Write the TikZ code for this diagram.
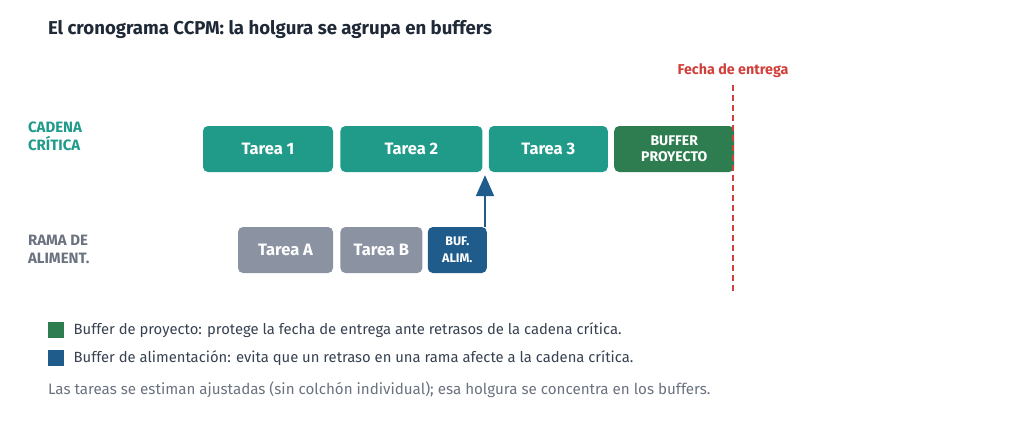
\documentclass[tikz,border=0pt]{standalone}
\usepackage{fontspec}
\setmainfont{Fira Sans}
\usetikzlibrary{positioning,arrows.meta}

\definecolor{critico}{RGB}{32,155,138}
\definecolor{bufproy}{RGB}{46,125,80}
\definecolor{bufalim}{RGB}{31,92,139}
\definecolor{rama}{RGB}{139,147,162}
\definecolor{ramatxt}{RGB}{107,114,128}
\definecolor{tinta}{RGB}{31,41,55}
\definecolor{leyenda}{RGB}{55,65,81}
\definecolor{entrega}{RGB}{208,64,58}

\begin{document}
\begin{tikzpicture}[x=1pt, y=-1pt, node distance=6pt,
    tarea/.style={rectangle, rounded corners=5pt, text=white, font=\fontsize{16.5}{18}\selectfont\bfseries,
      minimum height=46pt, inner sep=0pt, align=center},
    critica/.style={tarea, fill=critico},
    alim/.style={tarea, fill=rama},
    buffer/.style={tarea, font=\fontsize{14}{16}\selectfont\bfseries},
    fila/.style={anchor=west, align=left, font=\fontsize{15}{18}\selectfont\bfseries},
    cuadro/.style={minimum size=16pt, inner sep=0pt},
    nota/.style={anchor=west, font=\fontsize{14.8}{17}\selectfont, text=leyenda}]

    \useasboundingbox (0,0) rectangle (1024,429);

    % titulo
    \node[anchor=west, text=tinta, font=\fontsize{18.6}{22}\selectfont\bfseries] (titulo) at (44.5,30)
      {El cronograma CCPM: la holgura se agrupa en buffers};

    % filas
    \node[fila, text=critico] (lcad) at (24.5,136) {CADENA\\CRÍTICA};
    \node[fila, text=ramatxt] (lrama) at (24.5,249) {RAMA DE\\ALIMENT.};

    % cadena critica
    \node[critica, minimum width=130pt] (t1) at (268,149) {Tarea 1};
    \node[critica, minimum width=142pt, right=7pt of t1] (t2) {Tarea 2};
    \node[critica, minimum width=119pt, right=of t2] (t3) {Tarea 3};
    \node[buffer, fill=bufproy, minimum width=120pt, right=of t3] (bproy) {BUFFER\\PROYECTO};

    % rama de alimentacion
    \node[alim, minimum width=95pt] (ta) at (285.5,250) {Tarea A};
    \node[alim, minimum width=82pt, right=7pt of ta] (tb) {Tarea B};
    \node[buffer, fill=bufalim, minimum width=59pt, right=5pt of tb,
      font=\fontsize{12.5}{17}\selectfont\bfseries] (balim) {BUF.\\ALIM.};

    \draw[-{Triangle[width=18pt,length=21pt]}, line width=2pt, bufalim, shorten >=3pt]
      ([xshift=-2pt]balim.north east) -- ([xshift=-2pt]balim.north east |- t2.south);

    % fecha de entrega
    \node[text=entrega, font=\fontsize{14.3}{16}\selectfont\bfseries] (fecha) at (733,71) {Fecha de entrega};
    \coordinate (fin) at (733,293);
    \draw[entrega, line width=2pt, dash pattern=on 6pt off 4pt] (fecha.south) ++(0,3) -- (fin);

    % leyenda
    \node[cuadro, fill=bufproy] (cproy) at (56,330) {};
    \node[nota, right=6pt of cproy] (nproy)
      {Buffer de proyecto: protege la fecha de entrega ante retrasos de la cadena crítica.};
    \node[cuadro, fill=bufalim] (calim) at (56,358) {};
    \node[nota, right=6pt of calim] (nalim)
      {Buffer de alimentación: evita que un retraso en una rama afecte a la cadena crítica.};
    \node[nota, text=ramatxt, anchor=west, font=\fontsize{15.15}{17}\selectfont] (pie) at (44.5,390)
      {Las tareas se estiman ajustadas (sin colchón individual); esa holgura se concentra en los buffers.};
\end{tikzpicture}
\end{document}
